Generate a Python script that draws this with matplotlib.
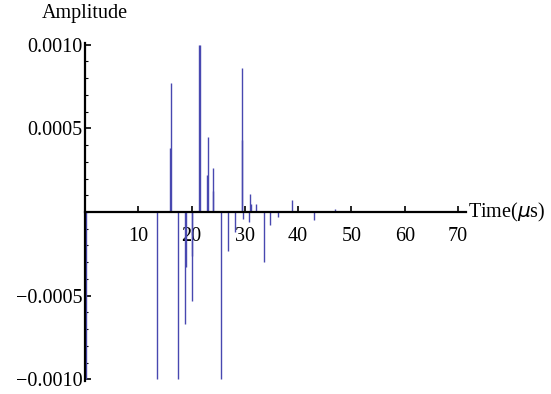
import matplotlib
matplotlib.use("Agg")
import matplotlib.pyplot as plt
from matplotlib.ticker import MultipleLocator, FixedLocator

# Impulse response: arrival times (microseconds) and amplitudes
times = [0.15, 13.5, 16.0, 16.1, 17.5, 18.8, 18.9, 20.0, 20.1,
         21.4, 21.5, 22.9, 23.0, 24.0, 24.1, 25.5, 26.9, 28.2,
         29.4, 29.5, 29.6, 30.8, 31.0, 31.1, 32.1, 33.6, 34.8,
         36.2, 38.9, 43.0, 47.0]
amplitudes = [-0.0010, -0.0010, 0.00038, 0.00077, -0.0010, -0.00067, -0.00033, -0.00026, -0.00053,
              0.0010, 0.0010, 0.00022, 0.00045, 0.000126, 0.00026, -0.0010, -0.000235, -0.00012,
              0.00043, 0.00086, -0.00004, -0.00006, 0.00011, 0.00005, 0.00005, -0.00030, -0.00008,
              -0.00003, 0.00007, -0.00005, 0.00002]

x_ticks = [10, 20, 30, 40, 50, 60, 70]
y_ticks = [-0.0010, -0.0005, 0.0005, 0.0010]
y_tick_labels = ["\u22120.0010", "\u22120.0005", "0.0005", "0.0010"]

plt.rcParams["font.family"] = ["Liberation Serif", "DejaVu Serif"]

fig = plt.figure(figsize=(5.51, 3.94), dpi=100)
ax = fig.add_axes([85 / 551, 13 / 394, 381 / 551, 338 / 394])

ax.vlines(times, 0, amplitudes, color="#4848b0", lw=1.0, zorder=2)

ax.set_xlim(0, 71.5)
ax.set_ylim(-0.00101, 0.00101)

# Axes crossing at the origin
for side in ("top", "right"):
    ax.spines[side].set_visible(False)
ax.spines["left"].set_position(("data", 0))
ax.spines["bottom"].set_position(("data", 0))
ax.spines["left"].set_linewidth(1.6)
ax.spines["bottom"].set_linewidth(1.6)
ax.spines["left"].set_zorder(3)
ax.spines["bottom"].set_zorder(3)

ax.xaxis.set_major_locator(FixedLocator(x_ticks))
ax.yaxis.set_major_locator(FixedLocator(y_ticks))
ax.yaxis.set_minor_locator(MultipleLocator(0.0001))
ax.set_yticklabels(y_tick_labels)

ax.tick_params(axis="x", which="major", direction="in", length=4, width=1.2,
               labelsize=14.5, pad=11)
ax.tick_params(axis="y", which="major", direction="in", length=4, width=1.2,
               labelsize=14.5, pad=2)
ax.tick_params(axis="y", which="minor", direction="in", length=2, width=0.8)

ax.text(71.8, 0, "Time($\\mu$s)", fontsize=14.5, ha="left", va="center",
        clip_on=False)
ax.text(0, 0.00113, "Amplitude", fontsize=14.5, ha="center", va="bottom",
        clip_on=False)

fig.savefig("out.png", dpi=100)
